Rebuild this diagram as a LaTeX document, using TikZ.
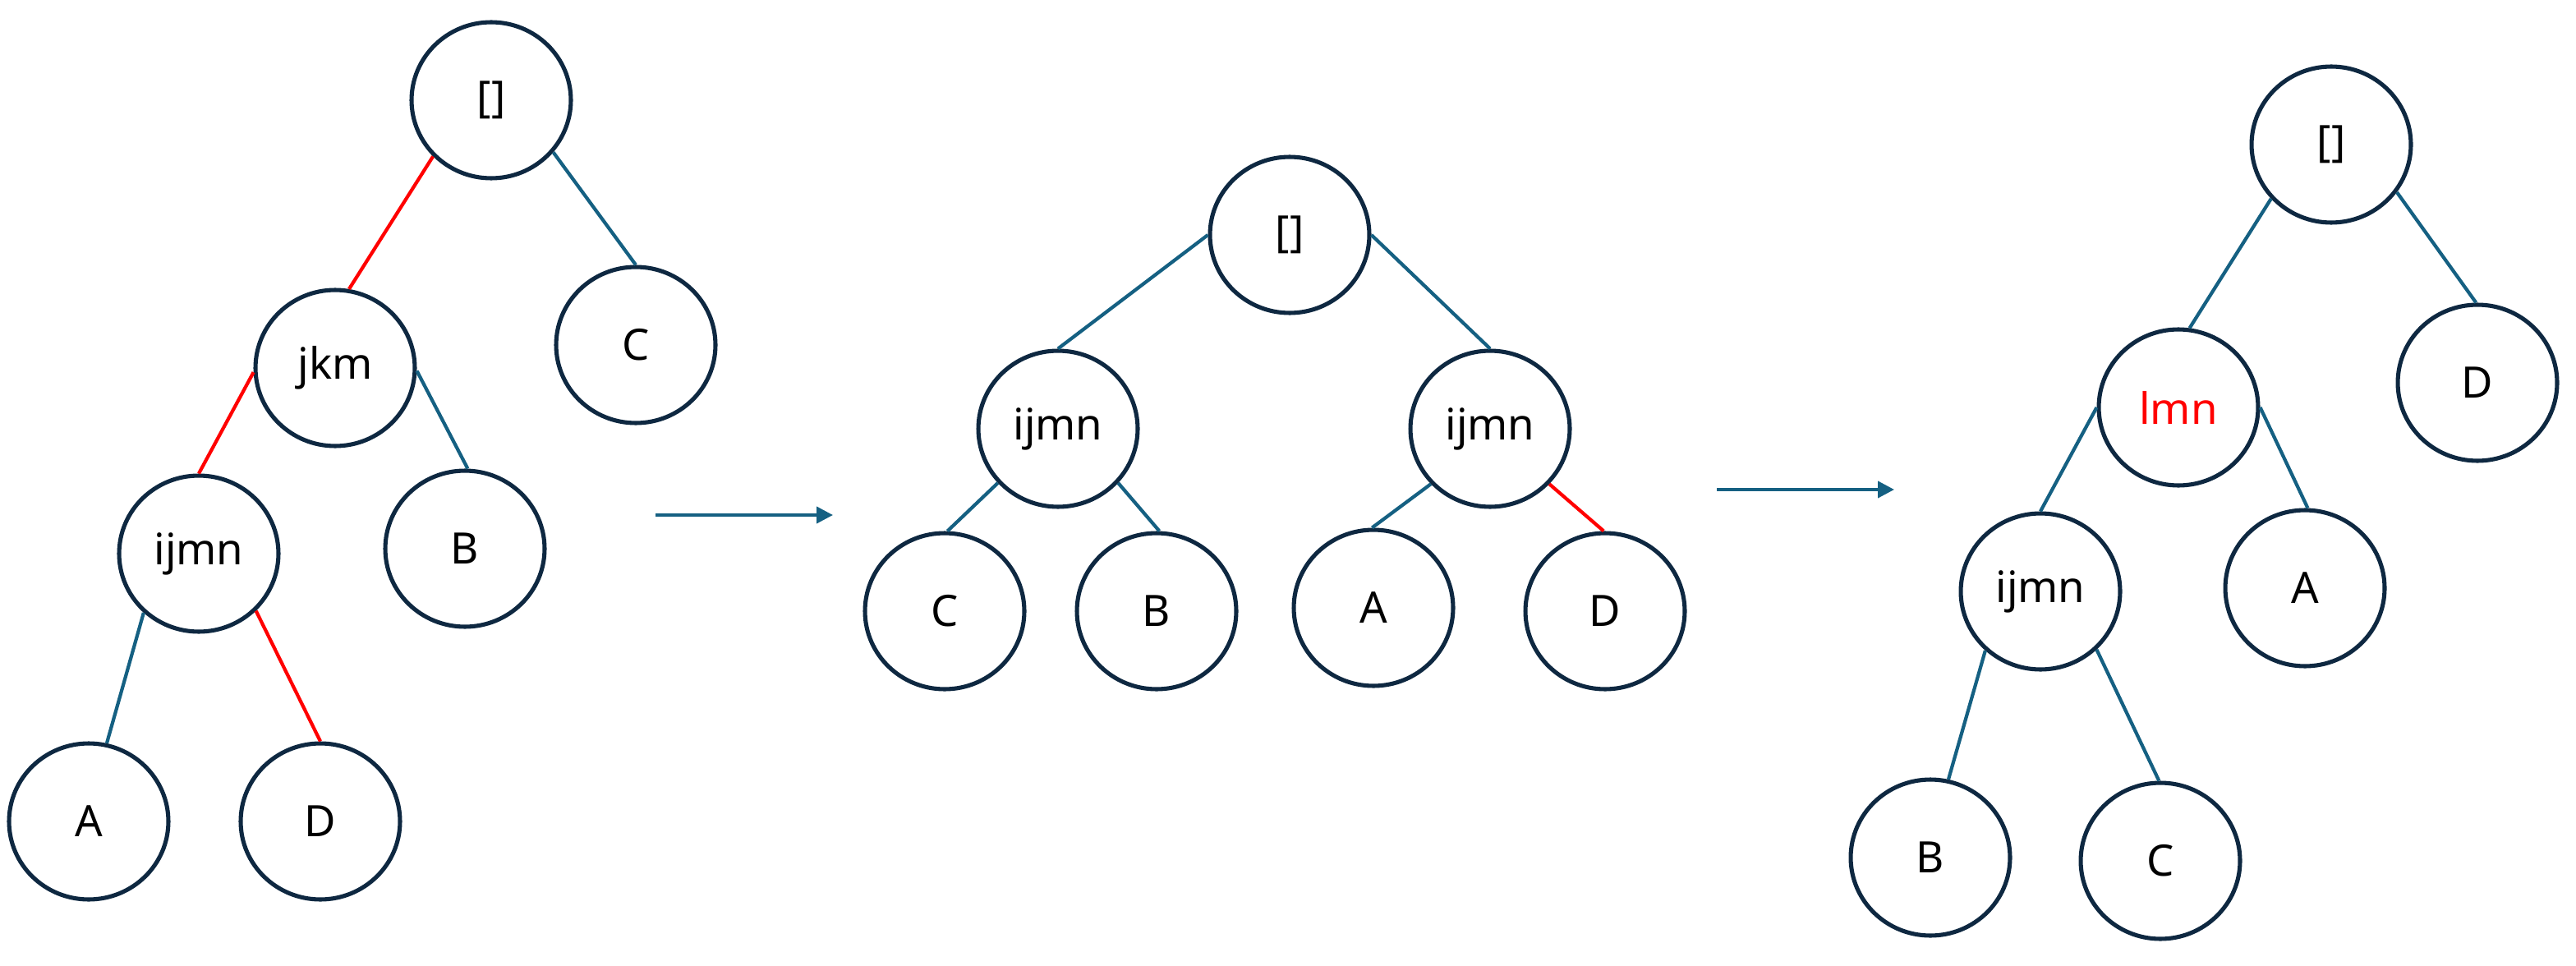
\documentclass[tikz,border=0pt]{standalone}
\usepackage{fontspec}
\setmainfont{Noto Sans}
\usetikzlibrary{shapes.geometric,arrows.meta}
\definecolor{ringcol}{HTML}{0E2841}
\definecolor{linkcol}{HTML}{156082}
\definecolor{hotcol}{HTML}{FF0000}
\begin{document}
\begin{tikzpicture}[x=0.02cm,y=-0.02cm,
  treenode/.style={ellipse,draw=ringcol,line width=1.45pt,minimum width=1.94cm,
    minimum height=1.90cm,inner sep=0pt,font=\fontsize{15}{18}\selectfont,text=black},
  link/.style={draw=linkcol,line width=1.2pt},
  hotlink/.style={draw=hotcol,line width=1.2pt},
  stepArrow/.style={draw=linkcol,fill=linkcol,line width=1.15pt,-{Triangle[length=0.2cm,width=0.2cm]}}]
\useasboundingbox (0,0) rectangle (1568,588);

% first tree
\node[treenode] (r1) at (299,61) {[]};
\node[treenode] (j1) at (204,224) {jkm};
\node[treenode] (c1) at (387,210) {C};
\node[treenode] (i1) at (121,337) {ijmn};
\node[treenode] (b1) at (283,334) {B};
\node[treenode] (a1) at (54,500) {A};
\node[treenode] (d1) at (195,500) {D};
\draw[hotlink] (r1.224) -- (j1.80);
\draw[link] (r1.320) -- (c1.90);
\draw[hotlink] (j1.183) -- (i1.90);
\draw[link] (j1.358) -- (b1.88);
\draw[link] (i1.227) -- (a1.77);
\draw[hotlink] (i1.315) -- (d1.90);

% second tree
\node[treenode] (r2) at (785,143) {[]};
\node[treenode] (l2) at (644,261) {ijmn};
\node[treenode] (m2) at (907,261) {ijmn};
\node[treenode] (c2) at (575,372) {C};
\node[treenode] (b2) at (704,372) {B};
\node[treenode] (a2) at (836,370) {A};
\node[treenode] (d2) at (977,372) {D};
\draw[link] (r2.180) -- (l2.90);
\draw[link] (r2.0) -- (m2.90);
\draw[link] (l2.222) -- (c2.88);
\draw[link] (l2.318) -- (b2.88);
\draw[link] (m2.223) -- (a2.91);
\draw[hotlink] (m2.317) -- (d2.91);

% third tree
\node[treenode] (r3) at (1419,88) {[]};
\node[treenode,text=hotcol] (n3) at (1326,248) {lmn};
\node[treenode] (d3) at (1508,233) {D};
\node[treenode] (i3) at (1242,360) {ijmn};
\node[treenode] (a3) at (1403,358) {A};
\node[treenode] (b3) at (1175,522) {B};
\node[treenode] (c3) at (1315,524) {C};
\draw[link] (r3.222) -- (n3.82);
\draw[link] (r3.324) -- (d3.91);
\draw[link] (n3.180) -- (i3.90);
\draw[link] (n3.0) -- (a3.88);
\draw[link] (i3.227) -- (b3.77);
\draw[link] (i3.314) -- (c3.91);

% transitions between the trees
\coordinate (s1) at (399,313.5);
\coordinate (e1) at (507,313.5);
\coordinate (s2) at (1045,298);
\coordinate (e2) at (1153,298);
\draw[stepArrow] (s1) -- (e1);
\draw[stepArrow] (s2) -- (e2);
\end{tikzpicture}
\end{document}
